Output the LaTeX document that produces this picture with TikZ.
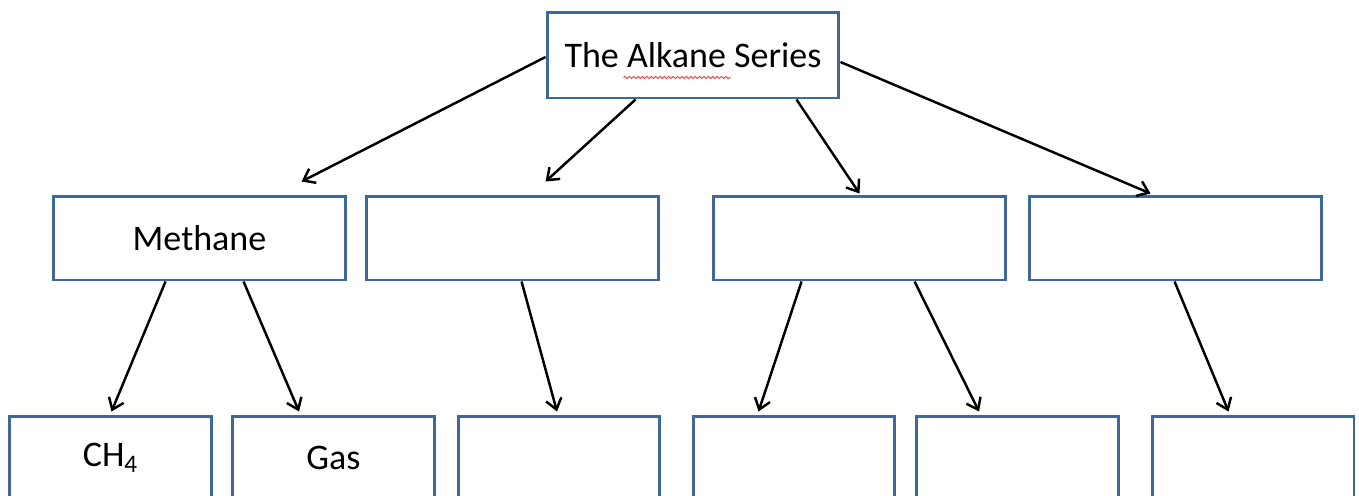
\documentclass[tikz,border=0pt]{standalone}
\usepackage{fontspec}
\setmainfont{Carlito}
\usepackage{tikz}
\usetikzlibrary{calc,arrows.meta,decorations.pathmorphing}
\definecolor{boxblue}{HTML}{3F679A}

\begin{document}
\begin{tikzpicture}[x=0.02cm,y=-0.02cm]
 \tikzstyle{arrow} = [-{Straight Barb[length=6pt,width=9pt,line width=1.4pt]},line width=1.4pt,black];
 \tikzstyle{box}   = [draw=boxblue,line width=1.7pt,fill=white,inner sep=0pt,
                      font=\fontsize{20.5}{24}\selectfont];
 \tikzstyle{topbox} = [box,minimum width=5.84cm,minimum height=1.72cm];
 \tikzstyle{midbox} = [box,minimum width=5.86cm,minimum height=1.68cm];
 \tikzstyle{leafbox} = [box,minimum width=4.04cm,minimum height=1.68cm];

 \useasboundingbox (0,0) rectangle (1359,495);
 \clip (0,0) rectangle (1359,495);

 %% top
 \node[topbox, name = top] at (693,55) {The Alkane Series};
 \draw[red!80,line width=0.5pt,decorate,decoration={snake,amplitude=0.6pt,segment length=2.5pt}]
   ($(top.south west)+(78,-22)$) -- ($(top.south west)+(185,-22)$);

 %% middle row
 \node[midbox, name = m1] at (199.5,238) {Methane};
 \node[midbox, name = m2] at (512.5,238) {};
 \node[midbox, name = m3] at (859.5,238) {};
 \node[midbox, name = m4] at (1175.5,238) {};

 %% bottom row
 \node[leafbox, name = b1] at (110.5,458) {CH\textsubscript{4}};
 \node[leafbox, name = b2] at (333.5,458) {Gas};
 \node[leafbox, name = b3] at (559,458) {};
 \node[leafbox, name = b4] at (794,458) {};
 \node[leafbox, name = b5] at (1017.5,458) {};
 \node[leafbox, name = b6] at (1253,458) {};

 %% top -> middle
 \draw[arrow] ($(top.west)+(0,2)$) -- ($(m1.north west)+(250,-13)$);
 \draw[arrow] ($(top.south west)+(90,0)$) -- ($(m2.north west)+(181,-13)$);
 \draw[arrow] ($(top.south east)+(-44,0)$) -- ($(m3.north)+(0,-1)$);
 \draw[arrow] ($(top.east)+(0,7)$) -- ($(m4.north west)+(123,-1)$);

 %% middle -> bottom
 \draw[arrow] ($(m1.south west)+(114,0)$) -- ($(b1.north)+(1,-3)$);
 \draw[arrow] ($(m1.south west)+(192,0)$) -- ($(b2.north west)+(68,-3)$);
 \draw[arrow] ($(m2.south west)+(157,0)$) -- ($(b3.north)+(-2,-3)$);
 \draw[arrow] ($(m3.south west)+(90,0)$) -- ($(b4.north west)+(67,-3)$);
 \draw[arrow] ($(m3.south west)+(203,0)$) -- ($(b5.north west)+(64,-3)$);
 \draw[arrow] ($(m4.south west)+(147,0)$) -- ($(b6.north west)+(78,-3)$);

\end{tikzpicture}
\end{document}
